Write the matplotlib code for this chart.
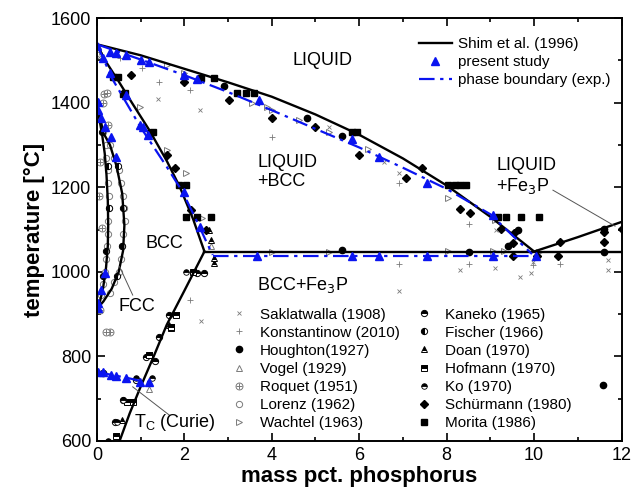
import numpy as np
import matplotlib.pyplot as plt
from matplotlib.ticker import MultipleLocator

plt.rcParams['font.family'] = ['Liberation Sans', 'DejaVu Sans']

# ---- calculated lines (Shim et al. 1996) ----
liq_x = [0, 1, 2, 3, 4, 5, 6, 7, 8, 9, 10.0]
liq_T = [1538, 1512, 1480, 1448, 1414, 1372, 1324, 1268, 1204, 1130, 1048]
fe3p_x = [10.0, 11, 12]
fe3p_T = [1048, 1082, 1118]
eut_x = [2.46, 12]
eut_T = [1048, 1048]
sol_x = [0, 0.2, 0.5, 0.8, 1.2, 1.6, 1.9, 2.2, 2.46]
sol_T = [1538, 1498, 1450, 1400, 1335, 1262, 1200, 1125, 1048]
solv_x = [2.46, 2.0, 1.6, 1.3, 1.0, 0.75, 0.52]
solv_T = [1048, 955, 875, 800, 728, 665, 600]
fcc_in_x = [0, 0.06, 0.12, 0.18, 0.22, 0.25, 0.26, 0.25, 0.21, 0.14, 0.06, 0]
fcc_in_T = [1394, 1360, 1325, 1280, 1230, 1170, 1110, 1060, 1010, 960, 925, 912]
fcc_out_x = [0, 0.08, 0.14, 0.3, 0.45, 0.58, 0.63, 0.6, 0.5, 0.34, 0.15, 0]
fcc_out_T = [1394, 1365, 1330, 1300, 1250, 1185, 1110, 1050, 1000, 960, 930, 912]

# ---- experimental phase boundary (blue) ----
bliq_x = [0, 1, 2, 3, 4, 5, 6, 7, 8, 9, 9.95]
bliq_T = [1538, 1502, 1465, 1425, 1382, 1338, 1294, 1246, 1196, 1136, 1042]
bsol_x = [0, 0.36, 1.0, 1.6, 1.96, 2.35, 2.5, 2.65]
bsol_T = [1538, 1455, 1342, 1248, 1189, 1106, 1072, 1040]
beut_x = [2.65, 9.95]
beut_T = [1038, 1038]
bcur_x = [0, 0.3, 0.66, 1.0, 1.3]
bcur_T = [764, 757, 750, 742, 738]

# ---- present study ----
ps_x = [0, 0.3, 0.43, 0.66, 1.0, 1.2, 2.0, 2.28, 3.7, 5.83, 6.45, 7.54, 9.07,
        0.14, 0.3, 0.66, 1.05, 0.98, 1.16, 2.0, 2.35,
        3.67, 5.83, 6.45, 7.54, 9.07, 10.05,
        0.02, 0.02, 0.1, 0.18, 0.32, 0.43, 0.18, 0.1, 0.02, 0.02,
        0.02, 0.14, 0.32, 0.43, 0.66, 0.98, 1.2]
ps_T = [1535, 1520, 1518, 1512, 1500, 1496, 1465, 1456, 1406, 1314, 1271, 1210, 1134,
        1505, 1470, 1418, 1342, 1347, 1323, 1189, 1106,
        1038, 1038, 1038, 1038, 1038, 1038,
        1401, 1383, 1363, 1342, 1318, 1271, 997, 957, 926, 915,
        763, 762, 756, 754, 749, 740, 740]

# ---- literature data ----
sak_x = [0.05, 1.39, 2.37, 5.3, 6.56, 6.9, 9.13, 9.1, 8.3, 9.1, 9.68, 9.93, 11.7, 11.7, 6.9, 2.39, 9.98]
sak_T = [1508, 1408, 1383, 1342, 1260, 1233, 1099, 1122, 1004, 1009, 988, 997, 1028, 1004, 955, 884, 1023]
kon_x = [0.05, 0.52, 1.03, 1.43, 2.12, 4.0, 6.9, 8.5, 6.9, 8.5, 9.98, 10.6, 2.12]
kon_T = [1520, 1505, 1482, 1449, 1430, 1319, 1210, 1113, 1018, 1018, 1016, 1018, 933]
hou_x = [2.9, 4.8, 5.6, 9.64, 5.6, 8.5, 11.6, 11.6, 11.57, 0.14, 9.4]
hou_T = [1439, 1364, 1321, 1099, 1051, 1047, 1047, 1101, 732, 761, 1060]
vog_x = [1.2, 0.02, 2.6]
vog_T = [722, 1535, 1060]
roq_x = [0.16, 0.24, 0.14, 0.25, 0.11, 0.3, 0.22, 0.07, 0.05, 0.08]
roq_T = [1420, 1422, 1400, 1347, 1103, 858, 858, 910, 1180, 1260]
lor_x = [0.15, 0.2, 0.22, 0.25, 0.26, 0.27, 0.27, 0.26, 0.25, 0.24, 0.22, 0.18, 0.14, 0.1,
         0.3, 0.4, 0.5, 0.55, 0.6, 0.62, 0.64, 0.6, 0.58, 0.55, 0.5, 0.4, 0.3, 0.32]
lor_T = [1330, 1300, 1270, 1240, 1210, 1180, 1150, 1120, 1090, 1060, 1030, 1000, 970, 945,
         1300, 1270, 1240, 1210, 1180, 1150, 1120, 1090, 1060, 1030, 1000, 975, 950, 595]
wac_x = [1.6, 2.0, 3.55, 3.9, 4.0, 4.62, 5.3, 6.2, 8.04, 9.1,
         0.98, 1.6, 2.05, 2.41,
         4.0, 5.3, 8.04, 9.07, 9.3, 10.1]
wac_T = [1489, 1470, 1399, 1390, 1383, 1359, 1330, 1290, 1174, 1122,
         1390, 1288, 1233, 1127,
         1047, 1047, 1049, 1049, 1049, 1047]
kan_x = [1.66, 1.43, 1.12, 1.32, 0.59, 0.41, 0.89, 2.28, 2.46]
kan_T = [898, 846, 799, 789, 697, 645, 744, 997, 997]
fis_x = [0.25, 0.27, 0.22, 0.15, 0.48, 0.6, 0.58, 0.45, 0.12]
fis_T = [1250, 1150, 1050, 990, 1250, 1150, 1060, 990, 1330]
doa_x = [2.69, 2.69, 1.66, 0.57, 2.57, 2.6, 1.2]
doa_T = [1033, 1021, 874, 650, 1099, 1075, 803]
hof_x = [1.8, 1.69, 1.2, 0.7, 0.82, 0.43, 2.2, 1.7]
hof_T = [898, 867, 803, 692, 692, 612, 1000, 870]
ko_x = [0.89, 0.6, 1.25, 0.45, 2.05, 0.25]
ko_T = [749, 697, 748, 645, 1000, 600]
sch_x = [0.77, 2.0, 3.03, 4.0, 5.0, 6.0, 7.08, 7.43, 8.3, 8.54, 9.25, 9.54, 9.52, 9.52,
         10.07, 10.55, 10.6, 11.6, 11.6, 12.0, 1.6, 1.78, 2.16, 2.5]
sch_T = [1465, 1449, 1406, 1364, 1342, 1276, 1222, 1245, 1148, 1139, 1101, 1092, 1068, 1037,
         1037, 1037, 1070, 1094, 1070, 1101, 1276, 1245, 1146, 1099]
mor_x = [0.36, 0.48, 0.6, 0.64, 1.21, 1.28, 1.89, 2.05, 2.05, 2.3, 2.62, 2.39, 2.69,
         3.2, 3.4, 3.6, 5.83, 5.95, 8.04, 8.2, 8.3, 8.45, 9.18, 9.36, 9.7, 10.1]
mor_T = [1460, 1460, 1420, 1423, 1328, 1330, 1205, 1205, 1130, 1130, 1130, 1458, 1458,
         1423, 1423, 1423, 1330, 1330, 1205, 1205, 1205, 1205, 1130, 1130, 1130, 1130]

gray = '#7a7a7a'
blue = '#0a14f0'

fig = plt.figure(figsize=(6.33, 4.97), dpi=100)
ax = fig.add_axes([0.153, 0.1127, 0.829, 0.851])

ms = 4.5
half = dict(color='black', mfc='black', mfcalt='white', fillstyle='top', ls='none')
lit = []
lit.append(ax.plot(sak_x, sak_T, 'x', color=gray, ms=3.5, mew=0.6)[0])
lit.append(ax.plot(kon_x, kon_T, '+', color=gray, ms=5, mew=0.6)[0])
lit.append(ax.plot(hou_x, hou_T, 'o', color='black', ms=ms)[0])
lit.append(ax.plot(vog_x, vog_T, '^', mfc='white', mec=gray, ms=ms + 0.5, mew=0.7)[0])
roq_o, = ax.plot(roq_x, roq_T, 'o', mfc='white', mec=gray, ms=ms + 0.5, mew=0.7)
roq_p, = ax.plot(roq_x, roq_T, '+', color=gray, ms=ms + 0.5, mew=0.7)
lit.append((roq_o, roq_p))
lit.append(ax.plot(lor_x, lor_T, 'o', mfc='white', mec=gray, ms=ms, mew=0.7)[0])
lit.append(ax.plot(wac_x, wac_T, '>', mfc='white', mec=gray, ms=ms + 0.5, mew=0.7)[0])
lit.append(ax.plot(kan_x, kan_T, marker='o', ms=ms, mew=0.7, **half)[0])
lit.append(ax.plot(fis_x, fis_T, marker='o', ms=ms, mew=0.7,
                   **{**half, 'fillstyle': 'left'})[0])
lit.append(ax.plot(doa_x, doa_T, marker='^', ms=ms, mew=0.7, **half)[0])
lit.append(ax.plot(hof_x, hof_T, marker='s', ms=ms - 0.5, mew=0.7, **half)[0])
lit.append(ax.plot(ko_x, ko_T, marker='o', ms=ms - 0.5, mew=0.6, **half)[0])
lit.append(ax.plot(sch_x, sch_T, 'D', color='black', ms=ms)[0])
lit.append(ax.plot(mor_x, mor_T, 's', color='black', ms=ms)[0])
lit_labels = ['Saklatwalla (1908)', 'Konstantinow (2010)', 'Houghton(1927)', 'Vogel (1929)',
              'Roquet (1951)', 'Lorenz (1962)', 'Wachtel (1963)', 'Kaneko (1965)',
              'Fischer (1966)', 'Doan (1970)', 'Hofmann (1970)', 'Ko (1970)',
              'Schürmann (1980)', 'Morita (1986)']

# calculated lines
kw = dict(color='black', lw=1.7)
shim, = ax.plot(liq_x, liq_T, **kw)
ax.plot(fe3p_x, fe3p_T, **kw)
ax.plot(eut_x, eut_T, **kw)
ax.plot(sol_x, sol_T, **kw)
ax.plot(solv_x, solv_T, **kw)
ax.plot(fcc_in_x, fcc_in_T, **kw)
ax.plot(fcc_out_x, fcc_out_T, **kw)

# experimental boundary
bkw = dict(color=blue, lw=1.6, ls=(0, (7, 2.5, 1.5, 2.5)))
pb, = ax.plot(bliq_x, bliq_T, **bkw)
ax.plot(bsol_x, bsol_T, **bkw)
ax.plot(beut_x, beut_T, **bkw)
ax.plot(bcur_x, bcur_T, **bkw)
pst, = ax.plot(ps_x, ps_T, '^', color=blue, ms=6, ls='none')

# labels
fs = 13
ax.text(5.15, 1500, 'LIQUID', fontsize=fs, ha='center', va='center')
ax.text(3.67, 1235, 'LIQUID\n+BCC', fontsize=fs, ha='left', va='center', linespacing=1.15)
ax.text(9.13, 1225, 'LIQUID\n+Fe$_3$P', fontsize=fs, ha='left', va='center', linespacing=1.15)
ax.text(3.67, 969, 'BCC+Fe$_3$P', fontsize=fs, ha='left', va='center')
ax.text(1.55, 1068, 'BCC', fontsize=fs, ha='center', va='center')
ax.text(0.5, 918, 'FCC', fontsize=fs, ha='left', va='center')
ax.text(0.85, 643, 'T$_\\mathregular{C}$ (Curie)', fontsize=fs, ha='left', va='center')
ax.plot([10.43, 11.85], [1193, 1108], color='#555555', lw=0.7)
ax.plot([0.52, 0.82], [1012, 945], color='#555555', lw=0.7)
ax.plot([0.82, 1.66], [728, 661], color='#555555', lw=0.7)

ax.set_xlim(0, 12)
ax.set_ylim(600, 1600)
ax.xaxis.set_major_locator(MultipleLocator(2))
ax.xaxis.set_minor_locator(MultipleLocator(1))
ax.yaxis.set_major_locator(MultipleLocator(200))
ax.yaxis.set_minor_locator(MultipleLocator(100))
ax.tick_params(which='both', direction='in', top=True, right=True, labelsize=13, width=1.2)
ax.tick_params(which='major', length=6, pad=4)
ax.tick_params(which='minor', length=3)
for s in ax.spines.values():
    s.set_linewidth(1.4)
ax.set_xlabel('mass pct. phosphorus', fontsize=16, fontweight='bold', labelpad=2)
ax.set_ylabel('temperature [°C]', fontsize=16, fontweight='bold', labelpad=4)

leg1 = ax.legend([shim, pst, pb], ['Shim et al. (1996)', 'present study', 'phase boundary (exp.)'],
                 loc='upper right', bbox_to_anchor=(1.0, 0.98),
                 frameon=False, fontsize=11, handlelength=2.1, handletextpad=0.45,
                 labelspacing=0.27, borderaxespad=0.3)
ax.add_artist(leg1)
ax.legend(lit, lit_labels, ncol=2, loc='lower right', bbox_to_anchor=(0.925, 0.0),
          frameon=False, fontsize=11, handlelength=1.5, handletextpad=0.6,
          labelspacing=0.27, columnspacing=0.85, borderaxespad=0.3)

fig.savefig('out.png', dpi=100)
